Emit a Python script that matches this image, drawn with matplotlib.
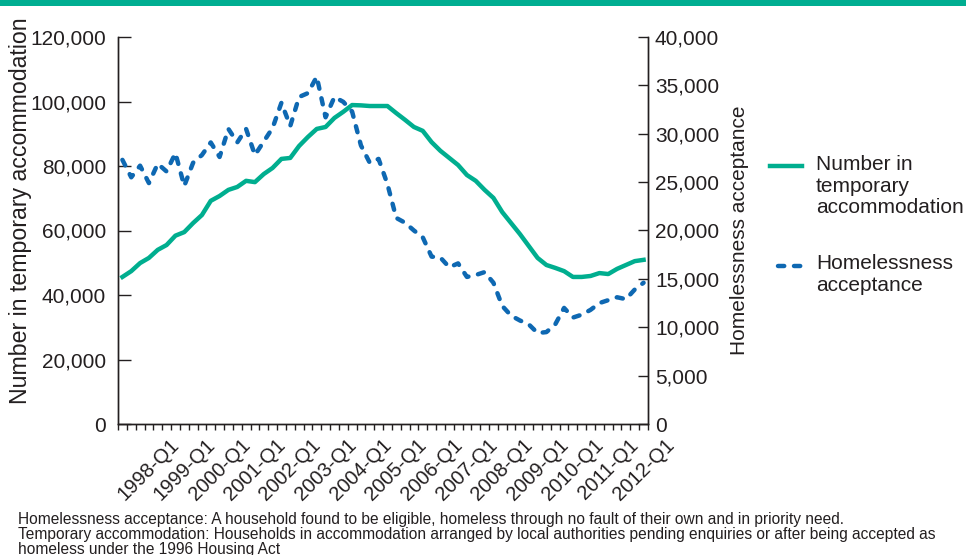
import matplotlib
matplotlib.use("Agg")
import matplotlib.pyplot as plt
from matplotlib.lines import Line2D
from matplotlib.patches import Rectangle
import numpy as np

plt.rcParams['font.family'] = ['Liberation Sans', 'DejaVu Sans']

# quarters 1997-Q2 .. 2012-Q1
quarters = [f"{y}-Q{q}" for y in range(1997, 2013) for q in range(1, 5)][1:61]

# number of households in temporary accommodation (left axis)
temp_accommodation = [
    45600, 47400, 49900, 51500, 54000, 55500, 58400, 59500, 62300, 64800,
    69200, 70700, 72600, 73500, 75400, 75000, 77500, 79400, 82200, 82500,
    86200, 89000, 91500, 92100, 94900, 96800, 98900, 98800, 98600, 98600,
    98600, 96400, 94300, 92100, 90900, 87400, 84700, 82500, 80300, 77200,
    75400, 72600, 70100, 65700, 62300, 58900, 55200, 51500, 49300, 48400,
    47400, 45600, 45600, 45900, 46800, 46500, 48100, 49300, 50500, 50900,
]

# homelessness acceptances (right axis)
homeless_accept = [
    27300, 25500, 26700, 24900, 26900, 26100, 28000, 24600, 27000, 27800,
    29100, 27600, 30500, 29100, 30500, 27800, 29200, 30600, 33200, 30800,
    33800, 34200, 35900, 31700, 33800, 33300, 32300, 28800, 27000, 27400,
    24800, 21300, 20800, 20000, 19300, 17300, 17200, 16200, 16600, 15200,
    15400, 15700, 14600, 12200, 11200, 10700, 10300, 9400, 9500, 10300,
    12000, 11000, 11300, 11800, 12500, 12800, 13100, 12900, 13900, 14600,
]

left_ticks = [0, 20000, 40000, 60000, 80000, 100000, 120000]
right_ticks = [0, 5000, 10000, 15000, 20000, 25000, 30000, 35000, 40000]

green = "#00AE8F"
blue = "#0E68B2"
txt = "#231F20"
dash = (1.4, 2.2)

fig = plt.figure(figsize=(9.66, 5.55), dpi=100)
fig.add_artist(Rectangle((0, 1 - 6 / 555), 1, 6 / 555, transform=fig.transFigure,
                         color="#00AE91", lw=0))

ax = fig.add_axes([118 / 966, 131 / 555, 530 / 966, 387 / 555])
ax2 = ax.twinx()

x = np.arange(len(quarters))
ax.plot(x, temp_accommodation, color=green, lw=3.2, solid_joinstyle="round", zorder=3)
ax2.plot(x, homeless_accept, color=blue, lw=3.2, dashes=dash,
         dash_capstyle="round", zorder=3)

ax.set_xlim(-0.5, len(quarters) - 0.5)
ax.set_ylim(0, 120000)
ax2.set_ylim(0, 40000)

for a in (ax, ax2):
    a.spines["top"].set_visible(False)
    for s in a.spines.values():
        s.set_linewidth(1.0)
        s.set_color(txt)

ax.set_yticks(left_ticks)
ax.set_yticklabels([f"{v:,}" for v in left_ticks])
ax2.set_yticks(right_ticks)
ax2.set_yticklabels([f"{v:,}" for v in right_ticks])
ax.tick_params(axis="y", direction="in", length=9.5, width=1.0, pad=8.5,
               labelsize=15, colors=txt)
ax2.tick_params(axis="y", direction="in", length=7.2, width=1.0, pad=5,
                labelsize=15, colors=txt)

lab_idx = [i for i, q in enumerate(quarters) if q.endswith("Q1")]
ax.set_xticks(lab_idx)
ax.set_xticklabels([quarters[i] for i in lab_idx], rotation=45, ha="center")
ax.set_xticks(np.arange(-0.5, len(quarters)), minor=True)
ax.tick_params(axis="x", which="major", length=0, pad=8, labelsize=14.5, colors=txt)
ax.tick_params(axis="x", which="minor", direction="out", length=4.5, width=1.0,
               colors=txt)

ax.set_ylabel("Number in temporary accommodation", fontsize=16.7, color=txt)
ax.yaxis.set_label_coords(-0.162, 0.552)
ax2.set_ylabel("Homelessness acceptance", fontsize=15, color=txt)
ax2.yaxis.set_label_coords(1.154, 0.5)

# legend
fig.add_artist(Line2D([770 / 966, 802 / 966], [1 - 166 / 555] * 2,
                      transform=fig.transFigure, color=green, lw=3.2))
fig.add_artist(Line2D([778 / 966, 802 / 966], [1 - 266 / 555] * 2,
                      transform=fig.transFigure, color=blue, lw=3.2,
                      dashes=dash, dash_capstyle="round"))
fig.text(816 / 966, 1 - 155 / 555, "Number in\ntemporary\naccommodation",
         fontsize=15, color=txt, va="top", linespacing=1.18)
fig.text(816 / 966, 1 - 254 / 555, "Homelessness\nacceptance",
         fontsize=15, color=txt, va="top", linespacing=1.18)

note = ("Homelessness acceptance: A household found to be eligible, homeless through no fault of their own and in priority need.\n"
        "Temporary accommodation: Households in accommodation arranged by local authorities pending enquiries or after being accepted as\n"
        "homeless under the 1996 Housing Act")
fig.text(18 / 966, 1 - 512 / 555, note, fontsize=11.2, color=txt, va="top",
         linespacing=0.98)

fig.savefig("out.png", dpi=100)
